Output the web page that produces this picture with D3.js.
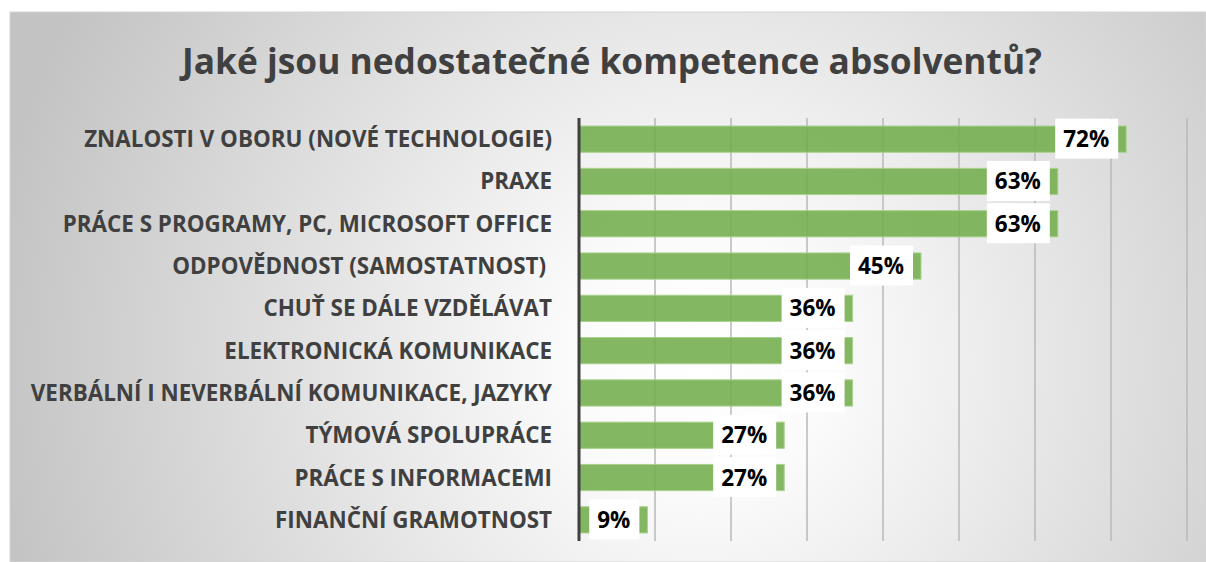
<!DOCTYPE html>
<html>
<head>
<meta charset="utf-8">
<script src="https://cdn.jsdelivr.net/npm/d3@7"></script>
<style>
  body { margin: 0; background: #fff; }
  svg { display: block; }
  text { font-family: "Open Sans", "Noto Sans", sans-serif; font-weight: bold; }
</style>
</head>
<body>
<svg id="svg" width="1206" height="562"></svg>
<script>
var width = 1206;
var height = 562;

// data
var categories = [
    'ZNALOSTI V OBORU (NOVÉ TECHNOLOGIE)',
    'PRAXE',
    'PRÁCE S PROGRAMY, PC, MICROSOFT OFFICE',
    'ODPOVĚDNOST (SAMOSTATNOST) ',
    'CHUŤ SE DÁLE VZDĚLÁVAT',
    'ELEKTRONICKÁ KOMUNIKACE',
    'VERBÁLNÍ I NEVERBÁLNÍ KOMUNIKACE, JAZYKY',
    'TÝMOVÁ SPOLUPRÁCE',
    'PRÁCE S INFORMACEMI',
    'FINANČNÍ GRAMOTNOST'
];
var values = [72, 63, 63, 45, 36, 36, 36, 27, 27, 9];
var gridTicks = [10, 20, 30, 40, 50, 60, 70, 80];
var title = 'Jaké jsou nedostatečné kompetence absolventů?';

var svg = d3.select('svg');

// background panel with radial gradient
var defs = svg.append('defs');
var grad = defs.append('radialGradient')
    .attr('id', 'bg')
    .attr('gradientUnits', 'userSpaceOnUse')
    .attr('cx', 700).attr('cy', 360).attr('r', 720);
grad.append('stop').attr('offset', '0%').attr('stop-color', '#ffffff');
grad.append('stop').attr('offset', '18%').attr('stop-color', '#fbfbfb');
grad.append('stop').attr('offset', '100%').attr('stop-color', '#c3c3c3');

svg.append('rect')
    .attr('x', 10).attr('y', 12)
    .attr('width', width - 10).attr('height', height - 12)
    .attr('fill', 'url(#bg)')
    .attr('stroke', '#d4d4d4')
    .attr('stroke-width', 1);

svg.append('text')
    .text(title)
    .attr('x', 612)
    .attr('y', 74)
    .attr('text-anchor', 'middle')
    .attr('fill', '#404040')
    .attr('font-size', 35.3);

var x = d3.scaleLinear()
    .domain([0, 80])
    .range([579, 1187]);

var y = d3.scaleBand()
    .domain(categories)
    .range([118, 541])
    .paddingInner(0.38)
    .paddingOuter(0.19);

// gridlines
svg.selectAll('.grid')
    .data(gridTicks)
    .enter()
    .append('line')
    .attr('class', 'grid')
    .attr('x1', function(d){ return x(d); })
    .attr('x2', function(d){ return x(d); })
    .attr('y1', 118)
    .attr('y2', 541)
    .attr('stroke', '#b8b8b8')
    .attr('stroke-width', 1.5);

// bars
svg.selectAll('.bar')
    .data(values)
    .enter()
    .append('rect')
    .attr('class', 'bar')
    .attr('x', x(0))
    .attr('y', function(d, i){ return y(categories[i]); })
    .attr('width', function(d){ return x(d) - x(0); })
    .attr('height', y.bandwidth())
    .attr('fill', '#72ad4b')
    .attr('fill-opacity', 0.88)
    .attr('stroke', '#a9d18e')
    .attr('stroke-width', 1);

// value labels in white boxes
var lab = svg.selectAll('.lab')
    .data(values)
    .enter()
    .append('g')
    .attr('class', 'lab');

lab.append('text')
    .text(function(d){ return d + '%'; })
    .attr('x', function(d){ return x(d) - 8 - 9; })
    .attr('y', function(d, i){ return y(categories[i]) + y.bandwidth() / 2 + 8; })
    .attr('text-anchor', 'end')
    .attr('fill', '#000')
    .attr('font-size', 22.5);

lab.each(function(){
    var g = d3.select(this);
    var bb = g.select('text').node().getBBox();
    g.insert('rect', 'text')
        .attr('x', bb.x - 8)
        .attr('y', bb.y + bb.height / 2 - 20)
        .attr('width', bb.width + 17)
        .attr('height', 40)
        .attr('fill', '#ffffff');
});

// category labels
svg.selectAll('.cat')
    .data(categories)
    .enter()
    .append('text')
    .attr('class', 'cat')
    .text(function(d){ return d; })
    .attr('x', 552)
    .attr('y', function(d){ return y(d) + y.bandwidth() / 2 + 8; })
    .attr('text-anchor', 'end')
    .style('white-space', 'pre')
    .attr('fill', '#404040')
    .attr('font-size', 22.4);

// vertical axis line
svg.append('line')
    .attr('x1', x(0)).attr('x2', x(0))
    .attr('y1', 118).attr('y2', 541)
    .attr('stroke', '#404040')
    .attr('stroke-width', 3);
</script>
</body>
</html>
